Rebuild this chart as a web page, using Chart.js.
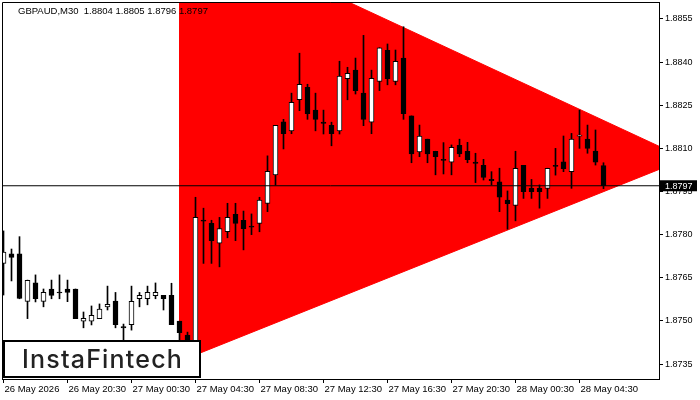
<!DOCTYPE html>
<html>
<head>
<meta charset="utf-8">
<script src="https://cdn.jsdelivr.net/npm/chart.js@4/dist/chart.umd.min.js"></script>
<style>
html, body { margin: 0; padding: 0; background: #fff; }
</style>
</head>
<body>
<canvas id="gbpaudChart" width="700" height="400"></canvas>
<script>
// GBPAUD M30 candles, 26 May 16:30 .. 28 May 06:00 (one bar every 30 min)
const open = [
  1.87700, 1.87733, 1.87733, 1.87568, 1.87632, 1.87568, 1.87611, 1.87600, 1.87611, 1.87611,
  1.87499, 1.87499, 1.87508, 1.87549, 1.87569, 1.87480, 1.87487, 1.87577, 1.87577, 1.87588,
  1.87589, 1.87589, 1.87499, 1.87451, 1.87399, 1.87851, 1.87839, 1.87770, 1.87810, 1.87871,
  1.87850, 1.87830, 1.87839, 1.87909, 1.88008, 1.88192, 1.88161, 1.88269, 1.88312, 1.88233,
  1.88191, 1.88180, 1.88161, 1.88342, 1.88372, 1.88292, 1.88191, 1.88333, 1.88441, 1.88333,
  1.88414, 1.88213, 1.88088, 1.88132, 1.88090, 1.88062, 1.88052, 1.88111, 1.88090, 1.88052,
  1.88041, 1.87992, 1.87984, 1.87920, 1.87902, 1.88041, 1.87961, 1.87961, 1.87961, 1.88041,
  1.88053, 1.88019, 1.88142, 1.88132, 1.88091, 1.88040
];
const high = [
  1.87813, 1.87750, 1.87793, 1.87642, 1.87660, 1.87611, 1.87642, 1.87660, 1.87642, 1.87611,
  1.87531, 1.87552, 1.87559, 1.87621, 1.87599, 1.87489, 1.87621, 1.87599, 1.87621, 1.87632,
  1.87589, 1.87631, 1.87499, 1.87461, 1.87930, 1.87892, 1.87850, 1.87860, 1.87909, 1.87909,
  1.87882, 1.87872, 1.87930, 1.88074, 1.88180, 1.88201, 1.88292, 1.88431, 1.88323, 1.88292,
  1.88233, 1.88191, 1.88403, 1.88382, 1.88414, 1.88493, 1.88372, 1.88450, 1.88463, 1.88442,
  1.88523, 1.88213, 1.88181, 1.88132, 1.88090, 1.88120, 1.88112, 1.88132, 1.88121, 1.88083,
  1.88062, 1.88019, 1.88031, 1.87952, 1.88090, 1.88041, 1.87992, 1.87973, 1.88031, 1.88100,
  1.88143, 1.88152, 1.88233, 1.88181, 1.88164, 1.88050
];
const low = [
  1.87590, 1.87639, 1.87577, 1.87508, 1.87566, 1.87549, 1.87577, 1.87577, 1.87567, 1.87508,
  1.87476, 1.87486, 1.87508, 1.87538, 1.87476, 1.87423, 1.87468, 1.87549, 1.87556, 1.87577,
  1.87538, 1.87487, 1.87433, 1.87357, 1.87381, 1.87700, 1.87700, 1.87688, 1.87789, 1.87779,
  1.87747, 1.87800, 1.87810, 1.87880, 1.87972, 1.88098, 1.88151, 1.88231, 1.88201, 1.88161,
  1.88150, 1.88109, 1.88150, 1.88269, 1.88289, 1.88179, 1.88151, 1.88301, 1.88321, 1.88321,
  1.88201, 1.88050, 1.88071, 1.88050, 1.88008, 1.88011, 1.88008, 1.88071, 1.88050, 1.87981,
  1.87990, 1.87973, 1.87880, 1.87819, 1.87848, 1.87926, 1.87926, 1.87892, 1.87926, 1.88007,
  1.88019, 1.87961, 1.88100, 1.88083, 1.88042, 1.87960
];
const close = [
  1.87739, 1.87721, 1.87578, 1.87641, 1.87577, 1.87599, 1.87589, 1.87597, 1.87599, 1.87508,
  1.87509, 1.87519, 1.87541, 1.87558, 1.87487, 1.87476, 1.87568, 1.87589, 1.87599, 1.87599,
  1.87577, 1.87487, 1.87459, 1.87399, 1.87860, 1.87847, 1.87779, 1.87821, 1.87860, 1.87839,
  1.87821, 1.87826, 1.87920, 1.88020, 1.88180, 1.88151, 1.88260, 1.88323, 1.88221, 1.88201,
  1.88187, 1.88151, 1.88351, 1.88361, 1.88301, 1.88201, 1.88344, 1.88450, 1.88342, 1.88403,
  1.88221, 1.88081, 1.88143, 1.88081, 1.88071, 1.88058, 1.88104, 1.88081, 1.88061, 1.88048,
  1.87999, 1.87988, 1.87930, 1.87908, 1.88031, 1.87949, 1.87949, 1.87949, 1.88031, 1.88037,
  1.88029, 1.88132, 1.88146, 1.88100, 1.88052, 1.87970
];

const xTickIdx = [0, 8, 16, 24, 32, 40, 48, 56, 64, 72];
const xTickLabels = ['26 May 2026', '26 May 20:30', '27 May 00:30', '27 May 04:30', '27 May 08:30',
  '27 May 12:30', '27 May 16:30', '27 May 20:30', '28 May 00:30', '28 May 04:30'];
const yTicks = [1.8735, 1.8750, 1.8765, 1.8780, 1.8795, 1.8810, 1.8825, 1.8840, 1.8855];

const lastPrice = 1.8797;
const titleText = 'GBPAUD,M30  1.8804 1.8805 1.8796 1.8797';

// symmetrical triangle pattern: left edge bar index -> apex
const triangleIdx = [21.94, 85.29];
const triangleUpper = [1.88883, 1.88064];
const triangleLower = [1.87359, 1.88064];

const idx = open.map((_, i) => i);
const wickData = idx.map(i => ({ x: i, y: [low[i], high[i]] }));
const bodyData = idx.map(i => ({ x: i, y: [open[i], close[i]] }));
const axisFont = { family: 'Liberation Sans', size: 9 };

const mt4Decor = {
  id: 'mt4Decor',
  afterDraw(chart) {
    const ctx = chart.ctx;
    const a = chart.chartArea;
    ctx.save();
    // left + top frame
    ctx.strokeStyle = '#000';
    ctx.lineWidth = 1;
    ctx.beginPath();
    ctx.moveTo(a.left + 0.5, a.bottom);
    ctx.lineTo(a.left + 0.5, a.top + 0.5);
    ctx.lineTo(a.right, a.top + 0.5);
    ctx.stroke();

    // symbol line
    ctx.fillStyle = '#000';
    ctx.font = '9.5px "Liberation Sans"';
    ctx.textBaseline = 'alphabetic';
    ctx.fillText(titleText, 18, 14);

    // bid label on the price scale
    const py = chart.scales.y.getPixelForValue(lastPrice);
    ctx.fillStyle = '#000';
    ctx.fillRect(660, py - 5.5, 37, 11);
    ctx.fillStyle = '#fff';
    ctx.font = '9px "Liberation Sans"';
    ctx.textBaseline = 'middle';
    ctx.fillText(lastPrice.toFixed(4), 665, py + 0.5);

    // logo
    ctx.fillStyle = '#fff';
    ctx.fillRect(3, 340, 198, 38);
    ctx.lineWidth = 2;
    ctx.strokeStyle = '#000';
    ctx.strokeRect(4, 341, 196, 36);
    ctx.fillStyle = '#222';
    ctx.font = '500 25px Inter';
    ctx.letterSpacing = '1.2px';
    ctx.textBaseline = 'alphabetic';
    ctx.fillText('InstaFintech', 22, 368);
    ctx.restore();
  }
};

new Chart(document.getElementById('gbpaudChart'), {
  type: 'bar',
  data: {
    datasets: [
      {
        type: 'line',
        data: triangleIdx.map((x, i) => ({ x: x, y: triangleUpper[i] })),
        borderColor: '#ff0000', borderWidth: 1, pointRadius: 0, fill: false, order: 5
      },
      {
        type: 'line',
        data: triangleIdx.map((x, i) => ({ x: x, y: triangleLower[i] })),
        borderColor: '#ff0000', borderWidth: 1, pointRadius: 0,
        fill: '-1', backgroundColor: '#ff0000', order: 5
      },
      {
        data: wickData,
        backgroundColor: '#000',
        barThickness: 1, grouped: false, order: 3
      },
      {
        data: bodyData,
        backgroundColor: c => close[c.dataIndex] > open[c.dataIndex] ? '#fff' : '#000',
        borderColor: '#000', borderWidth: 1, borderSkipped: false,
        barThickness: 5, grouped: false, order: 2
      },
      {
        type: 'line',
        data: [{ x: -1, y: lastPrice }, { x: 90, y: lastPrice }],
        borderColor: '#000', borderWidth: 1, pointRadius: 0, fill: false, order: 1
      }
    ]
  },
  options: {
    responsive: false,
    animation: false,
    events: [],
    layout: { padding: { left: 2, top: 2, right: 0, bottom: 0 } },
    plugins: { legend: { display: false }, tooltip: { enabled: false } },
    scales: {
      x: {
        type: 'linear', min: -0.1875, max: 81.9375, offset: false,
        afterBuildTicks: s => { s.ticks = xTickIdx.map(v => ({ value: v })); },
        afterFit: s => { s.height = 21; s.paddingLeft = 0; s.paddingRight = 0; },
        ticks: {
          autoSkip: false, maxRotation: 0, align: 'start', labelOffset: 1, padding: 1,
          color: '#000', font: { family: 'Liberation Sans', size: 9.5 },
          callback: (v, i) => xTickLabels[i]
        },
        grid: { drawOnChartArea: false, drawTicks: true, tickLength: 4, color: '#000', offset: false },
        border: { color: '#000' }
      },
      y: {
        position: 'right', min: 1.87298, max: 1.88609,
        afterBuildTicks: s => { s.ticks = yTicks.map(v => ({ value: v })); },
        afterFit: s => { s.width = 41; s.paddingTop = 0; s.paddingBottom = 0; },
        ticks: { callback: v => v.toFixed(4), padding: 2, color: '#000', font: axisFont },
        grid: { drawOnChartArea: false, drawTicks: true, tickLength: 4, color: '#000' },
        border: { color: '#000' }
      }
    }
  },
  plugins: [mt4Decor]
});
</script>
</body>
</html>
